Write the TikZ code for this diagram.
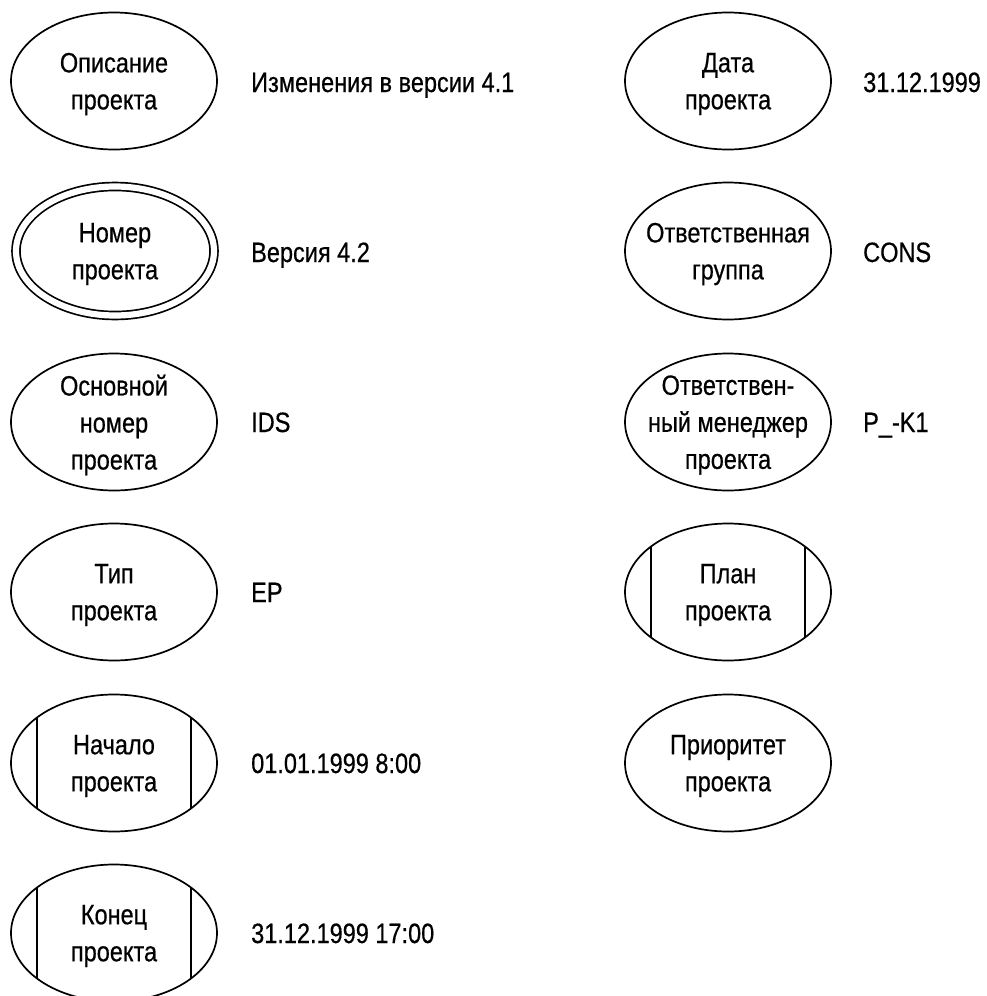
\documentclass[tikz,border=0pt]{standalone}
\usepackage{fontspec}
\setmainfont[FakeStretch=0.84,FakeBold=0.5]{Liberation Sans}
\usetikzlibrary{shapes.geometric}
\begin{document}
\begin{tikzpicture}[x=1pt,y=-1pt,
  field/.style={ellipse,draw,line width=1.7pt,minimum width=206pt,minimum height=137pt,inner sep=0pt},
  keyfield/.style={field,double,double distance=6.2pt,minimum width=198pt,minimum height=129pt},
  caption/.style={font=\fontsize{28}{37}\selectfont,align=center,inner sep=0pt,yshift=-3pt},
  value/.style={font=\fontsize{28}{37}\selectfont,anchor=base west,inner sep=0pt},
  bar/.style={line width=1.7pt}]
\useasboundingbox (0,0) rectangle (986,996);

% left column
\node[field]    (e1) at (114,81)  {};
\node[keyfield] (e2) at (115,251) {};
\node[field]    (e3) at (114,422) {};
\node[field]    (e4) at (114,592) {};
\node[field]    (e5) at (114,763) {};
\node[field]    (e6) at (114,933) {};

\node[caption] (c1) at (e1) {Описание\\проекта};
\node[caption] (c2) at (e2) {Номер\\проекта};
\node[caption] (c3) at (e3) {Основной\\номер\\проекта};
\node[caption] (c4) at (e4) {Тип\\проекта};
\node[caption] (c5) at (e5) {Начало\\проекта};
\node[caption] (c6) at (e6) {Конец\\проекта};

\node[value] (v1) at (251,92)  {Изменения в версии 4.1};
\node[value] (v2) at (251,262) {Версия 4.2};
\node[value] (v3) at (251,432) {IDS};
\node[value] (v4) at (251,602) {EP};
\node[value] (v5) at (251,773) {01.01.1999 8:00};
\node[value] (v6) at (251,943) {31.12.1999 17:00};

% right column
\node[field] (f1) at (728,81)  {};
\node[field] (f2) at (728,251) {};
\node[field] (f3) at (728,422) {};
\node[field] (f4) at (728,592) {};
\node[field] (f5) at (728,763) {};

\node[caption] (d1) at (f1) {Дата\\проекта};
\node[caption] (d2) at (f2) {Ответственная\\группа};
\node[caption] (d3) at (f3) {Ответствен-\\ный менеджер\\проекта};
\node[caption] (d4) at (f4) {План\\проекта};
\node[caption] (d5) at (f5) {Приоритет\\проекта};

\node[value] (w1) at (863,92)  {31.12.1999};
\node[value] (w2) at (863,262) {CONS};
\node[value] (w3) at (863,432) {P\_-K1};

% side bars of the scheduled fields
\foreach \n in {e5,e6,f4}{
  \draw[bar] ([xshift=-77pt,yshift=45.5pt]\n.center) -- ([xshift=-77pt,yshift=-45.5pt]\n.center);
  \draw[bar] ([xshift=77pt,yshift=45.5pt]\n.center) -- ([xshift=77pt,yshift=-45.5pt]\n.center);
}
\end{tikzpicture}
\end{document}
